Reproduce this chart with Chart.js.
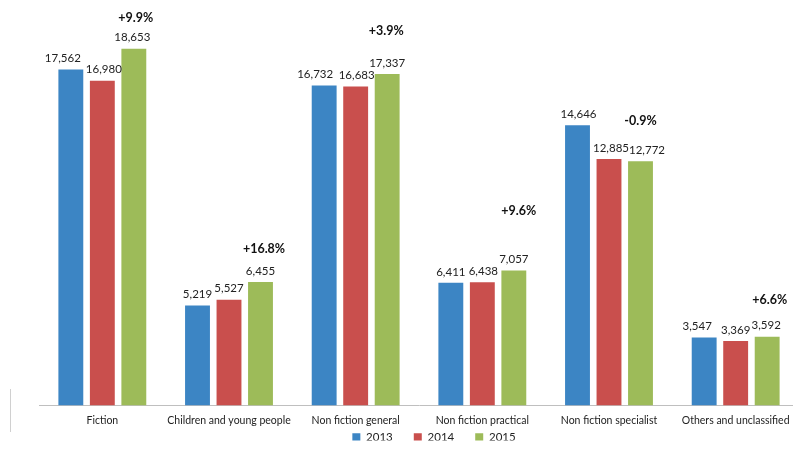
<!DOCTYPE html>
<html>
<head>
<meta charset="utf-8">
<script src="https://cdn.jsdelivr.net/npm/chart.js@4"></script>
<style>
    html, body { margin: 0; padding: 0; background: #fff; overflow: hidden; }
    #wrap { width: 806px; height: 473px; position: relative; }
</style>
</head>
<body>
<div id="wrap"><canvas id="chart"></canvas></div>
<script>
// --- dados ---
const categorias = ['Fiction', 'Children and young people', 'Non fiction general',
    'Non fiction practical', 'Non fiction specialist', 'Others and unclassified'];
const anos = ['2013', '2014', '2015'];
const valores2013 = [17562, 5219, 16732, 6411, 14646, 3547];
const valores2014 = [16980, 5527, 16683, 6438, 12885, 3369];
const valores2015 = [18653, 6455, 17337, 7057, 12772, 3592];
const variacoes = ['+9.9%', '+16.8%', '+3.9%', '+9.6%', '-0.9%', '+6.6%'];

const cores = ['#3c85c4', '#c94f4d', '#9dbb59'];
const FONTE = "Lato, 'Open Sans', sans-serif";

// rótulos de valor em cima das barras + percentuais em negrito
const rotulosPlugin = {
    id: 'rotulos',
    afterLayout(chart, args, opts) {
        // a legenda fica logo abaixo dos rótulos do eixo
        const lg = chart.legend;
        const h = lg.bottom - lg.top;
        lg.top = chart.chartArea.bottom + opts.legendaDy;
        lg.bottom = lg.top + h;
        lg.left += opts.legendaX;
        lg.right += opts.legendaX;
    },
    afterDatasetsDraw(chart, args, opts) {
        const ctx = chart.ctx;
        ctx.save();
        ctx.textAlign = 'center';
        ctx.textBaseline = 'middle';
        ctx.fillStyle = '#222';
        ctx.font = '11.5px ' + FONTE;
        chart.data.datasets.forEach((ds, i) => {
            chart.getDatasetMeta(i).data.forEach((bar, j) => {
                const dx = opts.ajusteX[i][j];
                ctx.fillText(ds.data[j].toLocaleString('en-US'), bar.x + dx, bar.y - 11);
            });
        });
        // percentuais sobre a barra de 2015
        const ultima = chart.getDatasetMeta(chart.data.datasets.length - 1).data;
        ctx.font = 'bold 12.5px ' + FONTE;
        ctx.fillStyle = '#111';
        ultima.forEach((bar, j) => {
            ctx.fillText(variacoes[j], bar.x + opts.pctX[j], bar.y - opts.pctY[j]);
        });
        // pequena linha vertical à esquerda
        ctx.strokeStyle = '#d0d0d0';
        ctx.lineWidth = 1;
        ctx.beginPath();
        ctx.moveTo(10.5, 389);
        ctx.lineTo(10.5, 432);
        ctx.stroke();
        ctx.restore();
    }
};

const ctx = document.getElementById('chart').getContext('2d');
new Chart(ctx, {
    type: 'bar',
    data: {
        labels: categorias,
        datasets: [
            { label: anos[0], data: valores2013, backgroundColor: cores[0] },
            { label: anos[1], data: valores2014, backgroundColor: cores[1] },
            { label: anos[2], data: valores2015, backgroundColor: cores[2] }
        ]
    },
    options: {
        responsive: true,
        maintainAspectRatio: false,
        animation: false,
        datasets: { bar: { categoryPercentage: 0.746, barPercentage: 0.79 } },
        layout: { padding: { top: 23, left: 39, right: 7, bottom: 7 } },
        scales: {
            x: {
                grid: { display: false, drawTicks: false },
                border: { color: '#bfbfbf', width: 1 },
                ticks: { color: '#222', font: { family: FONTE, size: 10.5 }, padding: 9,
                         maxRotation: 0, autoSkip: false }
            },
            y: { display: false, min: 0, max: 20000 }
        },
        plugins: {
            legend: {
                position: 'bottom',
                maxHeight: 30,
                labels: {
                    boxWidth: 8, boxHeight: 8, padding: 21,
                    color: '#222', font: { family: FONTE, size: 11.5 }
                }
            },
            tooltip: { enabled: false },
            rotulos: {
                ajusteX: [[-8, 0, -9, 0, 1, -7], [1.5, 0, 1, 1, 2, 0], [-1.5, 0, 0, 0, 6.5, -1]],
                pctX: [2, 3.5, -1, 5, 0, 2.5],
                pctY: [31, 33, 43, 60, 40, 37],
                legendaDy: 5,
                legendaX: 15
            }
        }
    },
    plugins: [rotulosPlugin]
});
</script>
</body>
</html>
